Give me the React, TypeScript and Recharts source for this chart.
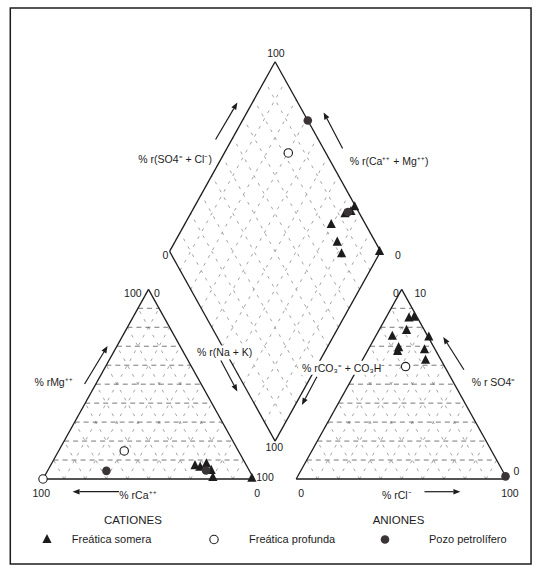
import { ScatterChart, Scatter, XAxis, YAxis, ReferenceLine, ReferenceArea, Legend } from 'recharts';

// Diagrama de Piper: lado de triángulo = 100 unidades
const H = Math.sqrt(3) / 2;
const GAP = 20;

// Triángulo de cationes: [% rCa, % rMg]
const cationesSomera = [[24.4, 7.1], [22.4, 6.2], [18.5, 8.1], [18.0, 4.6], [19.1, 0.8], [0.8, 0.4]];
const cationesProfunda = [[100, 0], [54.1, 14.8]];
const cationesPozo = [[67.8, 4.3], [20.5, 4.5]];

// Triángulo de aniones: [% rCl, % rSO4]
const anionesSomera = [
  [11.0, 84.9], [13.2, 85.4], [13.1, 78.4], [7.9, 75.3], [13.9, 69.3],
  [14.4, 67.3], [25.4, 74.9], [26.7, 68.2], [30.0, 62.6],
];
const anionesProfunda = [[22.2, 59.3]];
const anionesPozo = [[98.5, 1.4]];

// Rombo: [% r(SO4 + Cl), % r(Ca + Mg)]
const romboSomera = [[99.5, 24.1], [96.5, 24.6], [93.1, 26.8], [83.7, 30.5], [81.9, 23.0], [80.9, 17.9], [99.5, 0.5]];
const romboProfunda = [[82.2, 69.7]];
const romboPozo = [[100, 69], [95.0, 25.8]];

const gridTicks = [10, 20, 30, 40, 50, 60, 70, 80, 90];

// conversiones a coordenadas cartesianas del gráfico
const cation = ([ca, mg]: number[]) => ({ x: 100 - ca - mg + mg / 2, y: mg * H });
const anion = ([cl, so4]: number[]) => ({ x: 100 + GAP + cl + so4 / 2, y: so4 * H });
const rombo = ([s, c]: number[]) => ({ x: 100 + GAP / 2 + (s - c) / 2, y: GAP * H + (s + c) * H });

// escala de la imagen (px por unidad) y origen
const W = 541;
const HT = 568;
const KX = 2.11;
const KY = 2.19;
const OX = 43;
const OY = 479;
const xDomain = [-OX / KX, (W - OX) / KX];
const yDomain = [(OY - HT) / KY, OY / KY];

type Pt = { x: number; y: number };
type Seg = [Pt, Pt];

const triEdges = (ox: number): Seg[] => {
  const a = { x: ox, y: 0 }, b = { x: ox + 100, y: 0 }, c = { x: ox + 50, y: 100 * H };
  return [[a, b], [b, c], [c, a]];
};
const romboEdges: Seg[] = [
  [rombo([0, 0]), rombo([100, 0])],
  [rombo([100, 0]), rombo([100, 100])],
  [rombo([100, 100]), rombo([0, 100])],
  [rombo([0, 100]), rombo([0, 0])],
];
const edges = [...triEdges(0), ...triEdges(100 + GAP), ...romboEdges];

const hGrid: Seg[] = [];
const dGrid: Seg[] = [];
[0, 100 + GAP].forEach((ox) => {
  gridTicks.forEach((t) => {
    hGrid.push([{ x: ox + t / 2, y: t * H }, { x: ox + 100 - t / 2, y: t * H }]);
    dGrid.push([{ x: ox + t, y: 0 }, { x: ox + t + (100 - t) / 2, y: (100 - t) * H }]);
    dGrid.push([{ x: ox + t, y: 0 }, { x: ox + t / 2, y: t * H }]);
  });
});
gridTicks.forEach((t) => {
  dGrid.push([rombo([t, 0]), rombo([t, 100])]);
  dGrid.push([rombo([0, t]), rombo([100, t])]);
});

// flechas de los ejes
const arrows: Seg[] = [
  [{ x: 81.8, y: 155.0 }, { x: 92.1, y: 171.9 }],
  [{ x: 142.0, y: 150.9 }, { x: 133.0, y: 167.4 }],
  [{ x: 84.3, y: 54.1 }, { x: 92.1, y: 40.0 }],
  [{ x: 129.8, y: 46.7 }, { x: 122.7, y: 33.8 }],
  [{ x: 19.7, y: 43.4 }, { x: 30.6, y: 60.7 }],
  [{ x: 36.0, y: -5.8 }, { x: 14.0, y: -5.8 }],
  [{ x: 180.8, y: -5.8 }, { x: 197.8, y: -5.8 }],
  [{ x: 199.5, y: 49.9 }, { x: 189.7, y: 64.8 }],
];

const labels = [
  { x: 110.4, y: 194.5, text: '100' },
  { x: 62.6, y: 145.9, text: '% r(SO4⁼ + Cl⁻)' },
  { x: 164, y: 145.4, text: '% r(Ca⁺⁺ + Mg⁺⁺)' },
  { x: 58.0, y: 102.1, text: '0' },
  { x: 168.2, y: 102.1, text: '0' },
  { x: 109.6, y: 14.4, text: '100' },
  { x: 86.1, y: 57.8, text: '% r(Na + K)', bg: 62 },
  { x: 142.5, y: 50.8, text: '% rCO₃⁼ + CO₃H⁻', bg: 90 },
  { x: 42.6, y: 85.1, text: '100' },
  { x: 54.0, y: 85.1, text: '0' },
  { x: 5.0, y: 44.2, text: '% rMg⁺⁺' },
  { x: -0.8, y: -6.3, text: '100' },
  { x: 45, y: -7.1, text: '% rCa⁺⁺' },
  { x: 101.5, y: -6.3, text: '0' },
  { x: 105.2, y: 0.7, text: '100' },
  { x: 42.6, y: -18.6, text: 'CATIONES', big: true },
  { x: 167.3, y: 85.1, text: '0' },
  { x: 178.8, y: 85.1, text: '10' },
  { x: 213.5, y: 44.2, text: '% r SO4⁼' },
  { x: 224.4, y: 3.7, text: '0' },
  { x: 122.4, y: -6.3, text: '0' },
  { x: 167.7, y: -7.1, text: '% rCl⁻' },
  { x: 221.3, y: -6.3, text: '100' },
  { x: 168.5, y: -18.6, text: 'ANIONES', big: true },
];

const FONT = '"Liberation Sans", Arial, sans-serif';
const INK = '#1c1c1c';

const Tri = ({ cx, cy }: any) => (
  <polygon points={`${cx},${cy - 5.5} ${cx - 4.6},${cy + 3.6} ${cx + 4.6},${cy + 3.6}`} fill={INK} />
);
const Hueco = ({ cx, cy }: any) => (
  <circle cx={cx} cy={cy} r={4.2} fill="#fff" stroke={INK} strokeWidth={1.1} />
);
const Lleno = ({ cx, cy }: any) => <circle cx={cx} cy={cy} r={4.3} fill="#3a3436" />;

const Etiqueta = ({ cx, cy, payload }: any) => (
  <g>
    {payload.bg && <rect x={cx - payload.bg / 2} y={cy - 7} width={payload.bg} height={14} fill="#fff" />}
    <text
      x={cx}
      y={cy}
      textAnchor="middle"
      dominantBaseline="central"
      fontFamily={FONT}
      fontSize={payload.big ? 11.5 : 10.5}
      fill={INK}
    >
      {payload.text}
    </text>
  </g>
);

const Flecha = (props: any) => {
  const { x1, y1, x2, y2 } = props;
  const a = Math.atan2(y2 - y1, x2 - x1);
  const L = 7;
  const w = 2.8;
  const bx = x2 - L * Math.cos(a);
  const by = y2 - L * Math.sin(a);
  return (
    <g>
      <line x1={x1} y1={y1} x2={bx} y2={by} stroke={INK} strokeWidth={1.2} />
      <polygon
        points={`${x2},${y2} ${bx + w * Math.sin(a)},${by - w * Math.cos(a)} ${bx - w * Math.sin(a)},${by + w * Math.cos(a)}`}
        fill={INK}
      />
    </g>
  );
};

const leyenda = [
  { name: 'Freática somera', Marker: Tri, mx: 46.6, tx: 71.8 },
  { name: 'Freática profunda', Marker: Hueco, mx: 214, tx: 249 },
  { name: 'Pozo petrolífero', Marker: Lleno, mx: 384.7, tx: 429 },
];

const Leyenda = () => (
  <div style={{ position: 'relative', width: W, height: 20, fontFamily: FONT, fontSize: 11, color: INK }}>
    {leyenda.map((l) => (
      <div key={l.name}>
        <svg width={12} height={12} style={{ position: 'absolute', left: l.mx - 6, top: 4 }}>
          <l.Marker cx={6} cy={6.5} />
        </svg>
        <span style={{ position: 'absolute', left: l.tx, top: 2, lineHeight: '16px', whiteSpace: 'nowrap' }}>{l.name}</span>
      </div>
    ))}
  </div>
);

export default function App() {
  return (
    <div style={{ position: 'absolute', left: 0, top: 0, background: '#fff' }}>
      <ScatterChart width={W} height={HT} margin={{ top: 0, right: 0, bottom: 0, left: 0 }}>
        <XAxis type="number" dataKey="x" domain={xDomain} hide allowDataOverflow />
        <YAxis type="number" dataKey="y" domain={yDomain} hide allowDataOverflow />
        <ReferenceArea
          x1={-15.5}
          x2={231.3}
          y1={-38.8}
          y2={215.1}
          fill="none"
          fillOpacity={0}
          stroke={INK}
          strokeWidth={1.5}
          ifOverflow="visible"
        />
        {dGrid.map((s, i) => (
          <ReferenceLine key={'d' + i} segment={s} stroke="#8c8c8c" strokeWidth={0.8} strokeDasharray="3 6" ifOverflow="visible" />
        ))}
        {hGrid.map((s, i) => (
          <ReferenceLine key={'h' + i} segment={s} stroke="#555" strokeWidth={0.8} strokeDasharray="5 4" ifOverflow="visible" />
        ))}
        {edges.map((s, i) => (
          <ReferenceLine key={'e' + i} segment={s} stroke={INK} strokeWidth={1.3} ifOverflow="visible" />
        ))}
        {arrows.map((s, i) => (
          <ReferenceLine key={'a' + i} segment={s} shape={Flecha} ifOverflow="visible" />
        ))}
        <Scatter name="etiquetas" data={labels} shape={Etiqueta} legendType="none" isAnimationActive={false} />
        <Scatter name="Freática somera" data={cationesSomera.map(cation)} shape={Tri} isAnimationActive={false} />
        <Scatter name="Freática profunda" data={cationesProfunda.map(cation)} shape={Hueco} isAnimationActive={false} />
        <Scatter name="Pozo petrolífero" data={cationesPozo.map(cation)} shape={Lleno} isAnimationActive={false} />
        <Scatter data={anionesSomera.map(anion)} shape={Tri} legendType="none" isAnimationActive={false} />
        <Scatter data={anionesProfunda.map(anion)} shape={Hueco} legendType="none" isAnimationActive={false} />
        <Scatter data={anionesPozo.map(anion)} shape={Lleno} legendType="none" isAnimationActive={false} />
        <Scatter data={romboSomera.map(rombo)} shape={Tri} legendType="none" isAnimationActive={false} />
        <Scatter data={romboProfunda.map(rombo)} shape={Hueco} legendType="none" isAnimationActive={false} />
        <Scatter data={romboPozo.map(rombo)} shape={Lleno} legendType="none" isAnimationActive={false} />
        <Legend
          layout="horizontal"
          verticalAlign="middle"
          align="center"
          wrapperStyle={{ top: 529, left: 0, width: W, height: 20 }}
          content={() => <Leyenda />}
        />
      </ScatterChart>
    </div>
  );
}
